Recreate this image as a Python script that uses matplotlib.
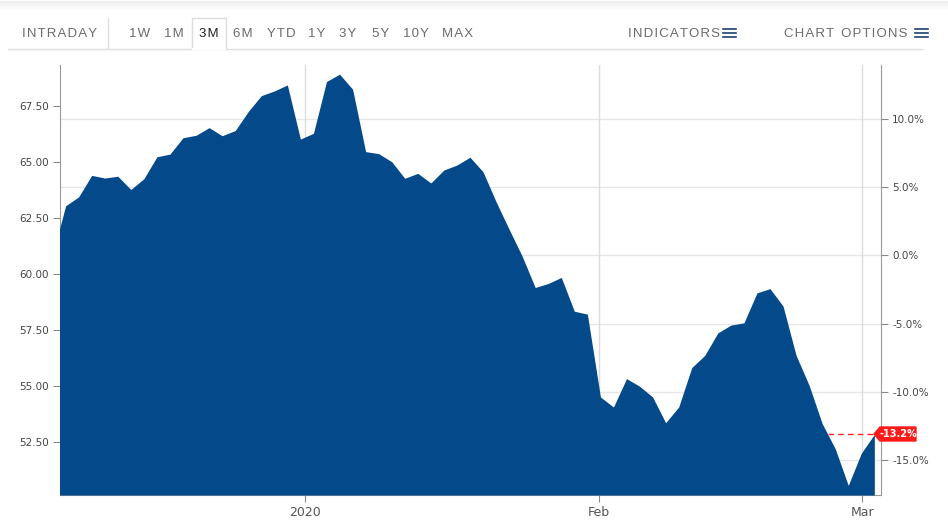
import matplotlib.pyplot as plt
from matplotlib.patches import Polygon
from matplotlib.lines import Line2D

# Daily closes (trading days), Dec 3 2019 .. Mar 3 2020
prices = [60.82, 63.04, 63.44, 64.40, 64.28, 64.36, 63.77, 64.25, 65.23, 65.35,
          66.08, 66.19, 66.53, 66.17, 66.40, 67.25, 67.96, 68.17, 68.44, 66.02,
          66.28, 68.59, 68.92, 68.25, 65.46, 65.37, 65.01, 64.27, 64.49, 64.06,
          64.64, 64.86, 65.21, 64.56, 63.22, 61.99, 60.79, 59.39, 59.57, 59.84,
          58.33, 58.20, 54.50, 54.05, 55.32, 54.98, 54.50, 53.35, 54.05, 55.81,
          56.36, 57.36, 57.71, 57.81, 59.15, 59.34, 58.56, 56.36, 55.02, 53.31,
          52.19, 50.55, 51.99, 52.83]
base_price = prices[0]
last_change = "-13.2%"

price_ticks = [52.5, 55.0, 57.5, 60.0, 62.5, 65.0, 67.5]
pct_ticks = [-15, -10, -5, 0, 5, 10]
month_labels = ["2020", "Feb", "Mar"]
month_pos = [19.36, 41.9, 62.07]

periods = ["1W", "1M", "3M", "6M", "YTD", "1Y", "3Y", "5Y", "10Y", "MAX"]
period_x = [140, 174, 209, 243, 281, 317, 348, 381, 416, 458]

fill_color = "#044a8b"
W, H = 948, 526
fig = plt.figure(figsize=(W / 100, H / 100), dpi=100)

ax = fig.add_axes([60 / W, 1 - 495 / H, 821 / W, 430 / H])
ymin, ymax = 50.12, 69.33
x = list(range(len(prices)))

to_pct = lambda p: (p / base_price - 1) * 100
ax2 = ax.twinx()
ax2.set_ylim(to_pct(ymin), to_pct(ymax))
ax2.set_yticks(pct_ticks)
ax2.set_yticklabels([f"{v:.1f}%" for v in pct_ticks])

# grid from the right (percent) axis plus vertical month lines
ax.set_zorder(ax2.get_zorder() + 1)
ax.patch.set_visible(False)
for v in pct_ticks:
    ax2.axhline(v, color="#e6e6e6", lw=1, zorder=0)

ax.fill_between(x, prices, ymin, color=fill_color, lw=0, zorder=3)
ax.axhline(prices[-1], color="#ff2020", lw=1, ls=(0, (4, 3)), zorder=2)
for p in month_pos:
    ax.axvline(p, color="#dcdcdc", lw=1, zorder=1)

ax.set_xlim(0.57, 63.51)
ax.set_ylim(ymin, ymax)
ax.set_yticks(price_ticks)
ax.set_yticklabels([f"{v:.2f}" for v in price_ticks])
ax.set_xticks(month_pos)
ax.set_xticklabels(month_labels)

for a in (ax, ax2):
    a.spines["top"].set_visible(False)
    a.tick_params(colors="#888888", labelcolor="#444444", labelsize=7.5, length=5, width=0.8)
    for s in ("left", "right", "bottom"):
        a.spines[s].set_color("#999999")
ax.spines["right"].set_visible(False)
ax2.spines["left"].set_visible(False)
ax2.spines["bottom"].set_visible(False)
ax.tick_params(axis="x", labelsize=9, pad=3, labelcolor="#555555")
ax.tick_params(axis="y", pad=3)
ax2.tick_params(axis="y", pad=3)

# last value label
ylab = 1 - 434 / H
fig.patches.append(Polygon([(874 / W, ylab), (880 / W, ylab + 7 / H), (916 / W, ylab + 7 / H),
                            (916 / W, ylab - 7 / H), (880 / W, ylab - 7 / H)],
                           closed=True, transform=fig.transFigure, color="#ff1a1a", zorder=10))
fig.text(898 / W, ylab, last_change, color="white", fontsize=7, fontweight="bold",
         ha="center", va="center", zorder=11)

# toolbar (letter-spaced with hair spaces)
spaced = lambda s: "\u200a".join(s)
tb_font = dict(fontsize=9.5, color="#6b6b6b", va="center", family=["Liberation Sans", "DejaVu Sans"])
ytb = 1 - 34 / H
fig.text(22 / W, ytb, spaced("INTRADAY"), ha="left", **tb_font)
for lab, px in zip(periods, period_x):
    c = "#222222" if lab == "3M" else "#6b6b6b"
    fig.text(px / W, ytb, spaced(lab), ha="center", **{**tb_font, "color": c})
fig.text(720 / W, ytb, spaced("INDICATORS"), ha="right", **tb_font)
fig.text(907 / W, ytb, spaced("CHART") + "  " + spaced("OPTIONS"), ha="right", **tb_font)
for x0 in (723, 915):
    for dy in (-4, 0, 4):
        fig.add_artist(Line2D([x0 / W, (x0 + 13) / W], [1 - 33 / H + dy / H] * 2, color="#1d3f6e", lw=1.2))

line_c = "#dddddd"
fig.add_artist(Line2D([8 / W, 922 / W], [1 - 49 / H] * 2, color=line_c, lw=1))
fig.add_artist(Line2D([108 / W] * 2, [1 - 18 / H, 1 - 48 / H], color=line_c, lw=1))
fig.add_artist(Line2D([192 / W, 192 / W, 226 / W, 226 / W],
                      [1 - 49 / H, 1 - 18 / H, 1 - 18 / H, 1 - 49 / H], color=line_c, lw=1))
fig.add_artist(Line2D([193 / W, 225 / W], [1 - 49 / H] * 2, color="white", lw=1.5))
# top shadow
for i in range(8):
    fig.add_artist(Line2D([0, 1], [1 - (i + 0.5) / H] * 2, color="#000000", alpha=0.05 * (1 - i / 8), lw=1))

fig.savefig("out.png", dpi=100)
